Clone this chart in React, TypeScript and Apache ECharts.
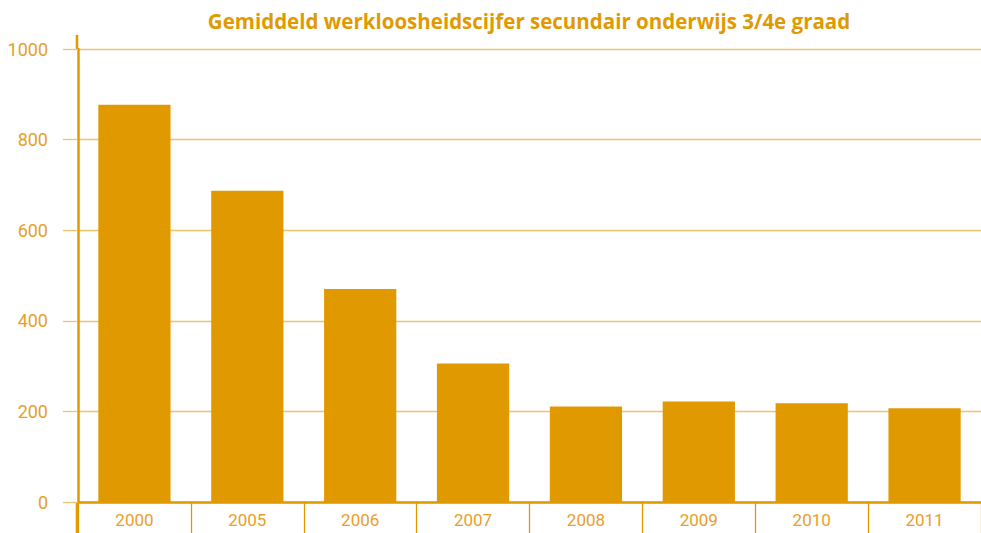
import React, { useEffect, useRef } from "react";
import * as echarts from "echarts";

const categories = ["2000", "2005", "2006", "2007", "2008", "2009", "2010", "2011"];
const values = [877, 687, 470, 306, 211, 222, 218, 207];
const yTicks = { min: 0, max: 1000, interval: 200 };
const titleText = "Gemiddeld werkloosheidscijfer secundair onderwijs 3/4e graad";

const BAR = "#e09a00";
const AXIS = "#e09a00";
const GRID = "#ecc46c";
const LABEL = "#e6a02a";

export default function App() {
  const ref = useRef<HTMLDivElement>(null);
  useEffect(() => {
    if (!ref.current) return;
    const chart = echarts.init(ref.current, null, { renderer: "svg" });
    const left = 77;
    const top = 49;
    const bottom = 31;
    chart.setOption({
      animation: false,
      backgroundColor: "#ffffff",
      title: {
        text: titleText,
        left: 524,
        textAlign: "center",
        top: 5,
        textStyle: {
          fontFamily: "Open Sans",
          fontWeight: "bold",
          fontSize: 20.5,
          color: BAR,
        },
      },
      grid: { left: left + 1, right: -3, top, bottom, containLabel: false },
      xAxis: {
        type: "category",
        data: categories,
        axisLine: { show: true, lineStyle: { color: AXIS, width: 2.5 } },
        axisTick: { show: true, length: 31, lineStyle: { color: AXIS, width: 1.3 } },
        axisLabel: {
          color: LABEL,
          fontFamily: "Roboto",
          fontSize: 17,
          margin: 9,
        },
        splitLine: { show: false },
      },
      yAxis: {
        type: "value",
        min: yTicks.min,
        max: yTicks.max,
        interval: yTicks.interval,
        axisLine: { show: true, lineStyle: { color: AXIS, width: 2.5 } },
        axisTick: { show: true, length: 15, lineStyle: { color: GRID, width: 1.3 } },
        axisLabel: {
          color: LABEL,
          fontFamily: "Roboto",
          fontSize: 18,
          margin: 30,
          formatter: (v: number) => String(v),
        },
        splitLine: { show: true, lineStyle: { color: GRID, width: 1.3 } },
      },
      series: [
        {
          type: "bar",
          data: values,
          barCategoryGap: "36%",
          itemStyle: { color: BAR },
          z: 1,
        },
      ],
      graphic: [
        {
          type: "line",
          shape: { x1: left, y1: 35, x2: left, y2: top },
          style: { stroke: AXIS, lineWidth: 2.5 },
        },
        {
          type: "line",
          shape: { x1: left, y1: 533 - bottom, x2: left, y2: 533 },
          style: { stroke: AXIS, lineWidth: 2.5 },
        },
      ],
    });
    return () => chart.dispose();
  }, []);
  return <div ref={ref} style={{ width: 981, height: 533, position: "absolute", left: 0, top: 0 }} />;
}
